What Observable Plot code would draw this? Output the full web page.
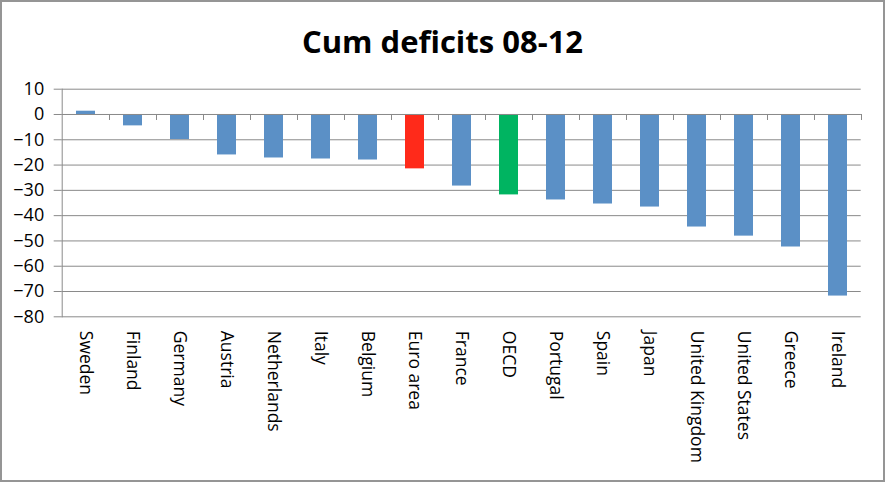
<!DOCTYPE html>
<html>
<head>
<meta charset="utf-8">
<script src="https://cdn.jsdelivr.net/npm/d3@7"></script>
<script src="https://cdn.jsdelivr.net/npm/@observablehq/plot@0.6"></script>
<style>
  html, body { margin: 0; padding: 0; background: #fff; }
  #chart { position: relative; width: 885px; height: 482px; box-sizing: border-box; border: 2px solid #959595; background: #fff; overflow: hidden; }
  #title { position: absolute; left: 0; right: 0; top: 23.5px; text-align: center; font-family: "Open Sans", sans-serif; font-weight: bold; font-size: 31px; line-height: 1; color: #000; }
  #plot { position: absolute; left: 0; top: 0; }
</style>
</head>
<body>
<div id="chart">
  <div id="title">Cum deficits 08-12</div>
  <div id="plot"></div>
</div>
<script>
const countries = ["Sweden","Finland","Germany","Austria","Netherlands","Italy","Belgium","Euro area","France","OECD","Portugal","Spain","Japan","United Kingdom","United States","Greece","Ireland"];
const deficits = [1.3,-4.5,-9.9,-16.0,-17.2,-17.6,-18.0,-21.5,-28.3,-31.8,-33.8,-35.4,-36.6,-44.5,-48.1,-52.4,-71.8];
const yTicks = [10,0,-10,-20,-30,-40,-50,-60,-70,-80];

const baseColor = "#5b90c6";
const highlight = {"Euro area": "#ff2a1a", "OECD": "#00b461"};
const gridColor = "#8a8a8a";

const data = countries.map((c, i) => ({country: c, value: deficits[i]}));

function boundaryTicks(index, scales, values, dims) {
  const n = countries.length;
  const x0 = dims.marginLeft, x1 = dims.width - dims.marginRight;
  const y0 = scales.y(0);
  const g = d3.create("svg:g").attr("stroke", gridColor).attr("stroke-width", 1);
  for (let i = 1; i <= n; i++) {
    const x = Math.round(x0 + (x1 - x0) * i / n) + 0.5;
    g.append("line").attr("x1", x).attr("x2", x).attr("y1", y0).attr("y2", y0 + 6);
  }
  return g.node();
}

const chart = Plot.plot({
  width: 881,
  height: 478,
  marginTop: 86.7,
  marginBottom: 163.7,
  marginLeft: 59.7,
  marginRight: 22.3,
  style: {fontFamily: "Open Sans, sans-serif", background: "transparent", color: "#000"},
  x: {type: "band", domain: countries, paddingInner: 0.6, paddingOuter: 0.3, axis: null},
  y: {domain: [-80, 10], axis: null},
  marks: [
    Plot.gridY({ticks: yTicks, stroke: gridColor, strokeOpacity: 1, strokeWidth: 1}),
    Plot.barY(data, {x: "country", y: "value", fill: d => highlight[d.country] || baseColor}),
    Plot.ruleY([0], {stroke: gridColor, strokeWidth: 1}),
    Plot.frame({anchor: "left", stroke: gridColor, strokeWidth: 1}),
    boundaryTicks,
    Plot.axisY({ticks: yTicks, tickSize: 8, tickPadding: 10, stroke: gridColor, strokeOpacity: 1, fill: "#000", fontSize: 18, label: null}),
    Plot.text(data, {x: "country", y: () => -80, text: "country", rotate: 90, textAnchor: "start", lineAnchor: "middle", dy: 14, fontSize: 17.5, fill: "#000"})
  ]
});
document.getElementById("plot").appendChild(chart);
</script>
</body>
</html>
